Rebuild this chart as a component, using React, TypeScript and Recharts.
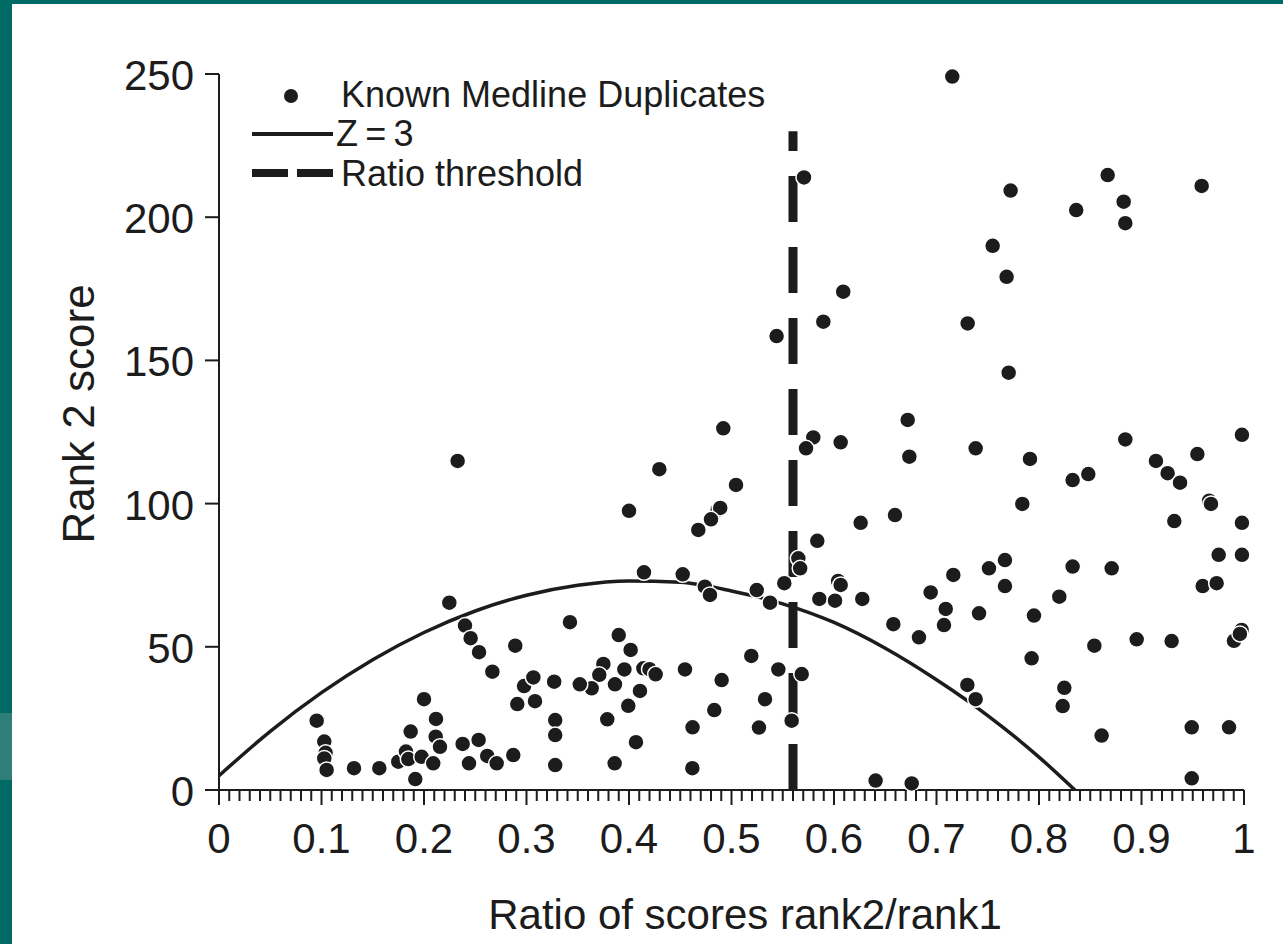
import React from "react";
import { ComposedChart, XAxis, YAxis, Line, Scatter } from "recharts";

// ---- data ----
const duplicates: { x: number; y: number }[] = [
  // left cluster
  { x: 0.0953, y: 24.2 }, { x: 0.1027, y: 16.9 }, { x: 0.104, y: 13 }, { x: 0.1027, y: 11.0 },
  { x: 0.105, y: 7.0 }, { x: 0.1317, y: 7.6 }, { x: 0.1564, y: 7.6 }, { x: 0.1749, y: 9.9 },
  { x: 0.1824, y: 13.4 }, { x: 0.1847, y: 10.8 }, { x: 0.187, y: 20.4 }, { x: 0.2, y: 31.7 },
  { x: 0.1977, y: 11.6 }, { x: 0.1915, y: 3.8 }, { x: 0.209, y: 9.3 }, { x: 0.2117, y: 24.8 },
  { x: 0.2114, y: 18.6 }, { x: 0.2156, y: 15.1 }, { x: 0.2247, y: 65.4 }, { x: 0.24, y: 57.4 },
  { x: 0.2455, y: 53 }, { x: 0.2537, y: 48.1 }, { x: 0.2667, y: 41.3 }, { x: 0.2377, y: 16.1 },
  { x: 0.2533, y: 17.5 }, { x: 0.2439, y: 9.3 }, { x: 0.2617, y: 11.9 }, { x: 0.2709, y: 9.3 },
  { x: 0.2871, y: 12.2 }, { x: 0.289, y: 50.4 }, { x: 0.2976, y: 36.3 }, { x: 0.3067, y: 39.3 },
  { x: 0.291, y: 30 }, { x: 0.3083, y: 31 }, { x: 0.327, y: 37.8 }, { x: 0.328, y: 24.4 },
  { x: 0.328, y: 19.2 }, { x: 0.328, y: 8.7 }, { x: 0.2328, y: 114.9 },
  // middle
  { x: 0.3424, y: 58.6 }, { x: 0.39, y: 54.1 }, { x: 0.4016, y: 48.9 }, { x: 0.375, y: 44 },
  { x: 0.371, y: 40.2 }, { x: 0.3955, y: 42.1 }, { x: 0.414, y: 42.5 }, { x: 0.42, y: 42.2 },
  { x: 0.426, y: 40.4 }, { x: 0.3863, y: 36.9 }, { x: 0.3636, y: 35.5 }, { x: 0.352, y: 36.9 },
  { x: 0.4107, y: 34.6 }, { x: 0.3993, y: 29.4 }, { x: 0.3788, y: 24.7 }, { x: 0.4068, y: 16.7 },
  { x: 0.386, y: 9.3 }, { x: 0.4146, y: 76 }, { x: 0.4524, y: 75.3 }, { x: 0.4546, y: 42.1 },
  { x: 0.4904, y: 38.4 }, { x: 0.462, y: 21.9 }, { x: 0.4832, y: 27.9 }, { x: 0.4618, y: 7.6 },
  { x: 0.474, y: 71 }, { x: 0.479, y: 68.1 }, { x: 0.5193, y: 46.8 }, { x: 0.5327, y: 31.7 },
  { x: 0.5268, y: 21.8 }, { x: 0.5246, y: 69.8 }, { x: 0.5376, y: 65.4 }, { x: 0.5515, y: 72.2 },
  { x: 0.5457, y: 42.1 }, { x: 0.5685, y: 40.5 }, { x: 0.5587, y: 24.2 }, { x: 0.5652, y: 80.9 },
  { x: 0.567, y: 77.4 },
  // upper middle
  { x: 0.4, y: 97.5 }, { x: 0.4296, y: 112 }, { x: 0.492, y: 126.3 }, { x: 0.5044, y: 106.5 },
  { x: 0.4865, y: 97.8 }, { x: 0.489, y: 98.5 }, { x: 0.48, y: 94.5 }, { x: 0.4676, y: 90.8 },
  { x: 0.544, y: 158.5 }, { x: 0.5707, y: 213.9 },
  // top right
  { x: 0.7154, y: 249.1 }, { x: 0.7723, y: 209.3 }, { x: 0.867, y: 214.7 }, { x: 0.8826, y: 205.4 },
  { x: 0.8842, y: 197.9 }, { x: 0.8363, y: 202.5 }, { x: 0.9587, y: 210.9 }, { x: 0.7548, y: 190 },
  { x: 0.7684, y: 179.2 }, { x: 0.609, y: 174 }, { x: 0.5896, y: 163.5 }, { x: 0.7304, y: 162.9 },
  { x: 0.7704, y: 145.7 },
  // right
  { x: 0.6719, y: 129.2 }, { x: 0.5798, y: 123.1 }, { x: 0.5727, y: 119.3 }, { x: 0.6065, y: 121.4 },
  { x: 0.6735, y: 116.4 }, { x: 0.7382, y: 119.3 }, { x: 0.7912, y: 115.6 }, { x: 0.8842, y: 122.4 },
  { x: 0.998, y: 124 }, { x: 0.9545, y: 117.3 }, { x: 0.9141, y: 114.9 }, { x: 0.9255, y: 110.6 },
  { x: 0.9376, y: 107.3 }, { x: 0.8328, y: 108.2 }, { x: 0.8481, y: 110.3 }, { x: 0.7837, y: 99.9 },
  { x: 0.966, y: 101 }, { x: 0.9678, y: 99.9 }, { x: 0.932, y: 93.9 }, { x: 0.998, y: 93.3 },
  { x: 0.626, y: 93.3 }, { x: 0.6595, y: 96 }, { x: 0.5837, y: 87 }, { x: 0.604, y: 73 },
  { x: 0.6065, y: 71.6 }, { x: 0.5857, y: 66.7 }, { x: 0.601, y: 66.1 }, { x: 0.6276, y: 66.7 },
  { x: 0.6943, y: 69 }, { x: 0.7164, y: 75.1 }, { x: 0.7512, y: 77.4 }, { x: 0.7668, y: 80.3 },
  { x: 0.7668, y: 71.2 }, { x: 0.709, y: 63.2 }, { x: 0.7073, y: 57.6 }, { x: 0.7415, y: 61.7 },
  { x: 0.7951, y: 60.9 }, { x: 0.8198, y: 67.5 }, { x: 0.8328, y: 78 }, { x: 0.8709, y: 77.4 },
  { x: 0.9753, y: 82.1 }, { x: 0.998, y: 82.1 }, { x: 0.9597, y: 71.2 }, { x: 0.9733, y: 72.2 },
  { x: 0.6579, y: 57.9 }, { x: 0.6829, y: 53.3 }, { x: 0.7928, y: 46 }, { x: 0.854, y: 50.4 },
  { x: 0.8953, y: 52.6 }, { x: 0.9294, y: 52 }, { x: 0.9902, y: 52.1 }, { x: 0.9977, y: 55.9 },
  { x: 0.996, y: 54.5 }, { x: 0.7301, y: 36.7 }, { x: 0.7382, y: 31.7 }, { x: 0.8247, y: 35.7 },
  { x: 0.8231, y: 29.3 }, { x: 0.8611, y: 19 }, { x: 0.949, y: 21.9 }, { x: 0.9854, y: 21.9 },
  { x: 0.6406, y: 3.3 }, { x: 0.6758, y: 2.3 }, { x: 0.949, y: 4.1 },
];

// Z = 3 curve
const zCurve: { x: number; y: number }[] = [
  { x: 0, y: 5 }, { x: 0.05, y: 20.5 }, { x: 0.1, y: 34 }, { x: 0.15, y: 45.5 },
  { x: 0.2, y: 55 }, { x: 0.25, y: 62.5 }, { x: 0.3, y: 68 }, { x: 0.35, y: 71.5 },
  { x: 0.4, y: 73 }, { x: 0.45, y: 72.5 }, { x: 0.5, y: 69.5 }, { x: 0.55, y: 65 },
  { x: 0.6, y: 58.5 }, { x: 0.65, y: 49.5 }, { x: 0.7, y: 38.5 }, { x: 0.75, y: 26 },
  { x: 0.8, y: 11.5 }, { x: 0.835, y: 0 },
];

// ratio threshold (vertical dashed line)
const ratioThreshold: { x: number; y: number }[] = [
  { x: 0.56, y: 0 },
  { x: 0.56, y: 230 },
];

const xMinorTicks: number[] = Array.from({ length: 101 }, (_, i) => i / 100);
const yTicks: number[] = [0, 50, 100, 150, 200, 250];

const legendLabels = ["Known Medline Duplicates", "Z\u2009=\u20093", "Ratio threshold"];
const xTitle = "Ratio of scores rank2/rank1";
const yTitle = "Rank 2 score";

const INK = "#1c1c1c";
const FONT = "'Liberation Sans', Arial, Helvetica, sans-serif";

const fmtX = (v: number) => (v === 0 ? "0" : v === 1 ? "1" : v.toFixed(1));

const XTick = (props: any) => {
  const { x, y, payload } = props;
  const v = payload.value as number;
  const major = Math.round(v * 100) % 10 === 0;
  return (
    <g>
      <line x1={x} y1={y} x2={x} y2={y + (major ? 15 : 11)} stroke={INK} strokeWidth={2} />
      {major && (
        <text x={x} y={y + 63} textAnchor="middle" fontSize={42} fontFamily={FONT} fill={INK}>
          {fmtX(v)}
        </text>
      )}
    </g>
  );
};

const YTick = (props: any) => {
  const { x, y, payload } = props;
  return (
    <g>
      <line x1={x - 14} y1={y} x2={x} y2={y} stroke={INK} strokeWidth={2} />
      <text x={x - 25} y={y + 16} textAnchor="end" fontSize={42} fontFamily={FONT} fill={INK}>
        {payload.value}
      </text>
    </g>
  );
};

const Dot = (props: any) => {
  const { cx, cy } = props;
  if (cx == null || cy == null) return null;
  return <circle cx={cx} cy={cy} r={8} fill={INK} stroke="#ffffff" strokeWidth={1.5} />;
};

export default function App() {
  return (
    <div style={{ position: "absolute", left: 0, top: 0, width: 1283, height: 944, background: "#006a65", overflow: "hidden" }}>
      <div style={{ position: "absolute", left: 0, top: 713, width: 12, height: 67, background: "#2e7f7a" }} />
      <div style={{ position: "absolute", left: 12, top: 4, right: 0, bottom: 0, background: "#ffffff" }} />
      <div style={{ position: "absolute", left: 0, top: 0 }}>
        <ComposedChart width={1283} height={944} margin={{ top: 74, right: 39, bottom: 94, left: 119 }}>
          <XAxis
            type="number"
            dataKey="x"
            domain={[0, 1]}
            ticks={xMinorTicks}
            interval={0}
            tickSize={0}
            tickMargin={0}
            tickLine={false}
            axisLine={{ stroke: INK, strokeWidth: 2 }}
            tick={<XTick />}
            height={60}
          />
          <YAxis
            type="number"
            dataKey="y"
            domain={[0, 250]}
            ticks={yTicks}
            interval={0}
            tickSize={0}
            tickMargin={0}
            tickLine={false}
            axisLine={{ stroke: INK, strokeWidth: 2 }}
            tick={<YTick />}
            width={100}
          />
          <Line
            data={zCurve}
            dataKey="y"
            type="monotone"
            stroke={INK}
            strokeWidth={3.5}
            dot={false}
            activeDot={false}
            isAnimationActive={false}
          />
          <Line
            data={ratioThreshold}
            dataKey="y"
            type="linear"
            stroke={INK}
            strokeWidth={9}
            strokeDasharray="46 25"
            dot={false}
            activeDot={false}
            isAnimationActive={false}
          />
          <Scatter data={duplicates} dataKey="y" shape={<Dot />} isAnimationActive={false} />
        </ComposedChart>
      </div>
      <svg width={1283} height={944} style={{ position: "absolute", left: 0, top: 0, pointerEvents: "none" }}>
        {/* legend */}
        <circle cx={291} cy={96} r={7} fill={INK} />
        <text x={341} y={107} fontSize={36} fontFamily={FONT} fill={INK}>{legendLabels[0]}</text>
        <line x1={252} y1={134} x2={333} y2={134} stroke={INK} strokeWidth={4} />
        <text x={336} y={146} fontSize={36} fontFamily={FONT} fill={INK}>{legendLabels[1]}</text>
        <line x1={252} y1={173} x2={333} y2={173} stroke={INK} strokeWidth={8} strokeDasharray="36 9" />
        <text x={341} y={186} fontSize={36} fontFamily={FONT} fill={INK}>{legendLabels[2]}</text>
        {/* axis titles */}
        <text x={745} y={929} textAnchor="middle" fontSize={42} fontFamily={FONT} fill={INK}>{xTitle}</text>
        <text
          x={94}
          y={414}
          textAnchor="middle"
          fontSize={44}
          fontFamily={FONT}
          fill={INK}
          transform="rotate(-90 94 414)"
        >
          {yTitle}
        </text>
      </svg>
    </div>
  );
}
